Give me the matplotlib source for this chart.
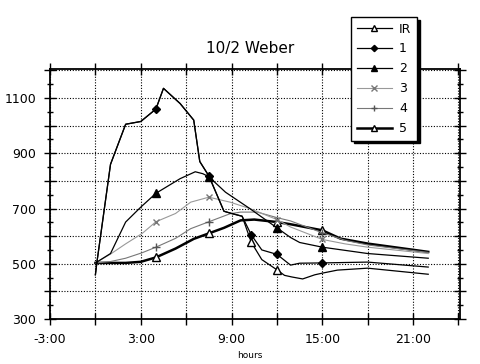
import numpy as np
import matplotlib
matplotlib.use('Agg')
import matplotlib.pyplot as plt
from matplotlib.ticker import MultipleLocator

# time in hours
t_ir = [0, 0.1, 1.0, 2.0, 3.0, 4.0, 4.5, 5.6, 6.5, 6.9, 7.5, 8.5, 9.0, 9.7,
        10.3, 11.0, 12.0, 12.5, 13.0, 13.7, 14.5, 15.0, 16.0, 18.0, 22.0]
v_ir = [460, 505, 860, 1005, 1015, 1060, 1135, 1080, 1020, 870, 818, 690, 682, 672,
        578, 515, 478, 458, 452, 445, 460, 466, 477, 484, 462]

t_1 = [0, 0.1, 1.0, 2.0, 3.0, 4.0, 4.5, 5.6, 6.5, 6.9, 7.5, 8.5, 9.0, 9.7,
       10.3, 11.0, 12.0, 12.9, 13.5, 15.0, 18.0, 22.0]
v_1 = [460, 505, 860, 1005, 1015, 1060, 1135, 1080, 1020, 870, 818, 690, 682, 672,
       605, 550, 534, 495, 502, 503, 506, 488]

t_2 = [0, 0.3, 1.0, 2.0, 3.0, 4.0, 5.6, 6.6, 7.1, 7.5, 8.6, 10.2, 12.0, 12.9, 13.5, 15.0, 18.0, 22.0]
v_2 = [503, 513, 537, 651, 705, 755, 808, 833, 826, 815, 759, 700, 630, 595, 577, 560, 537, 520]

t_3 = [0, 1.0, 2.0, 3.1, 4.0, 5.3, 6.3, 7.5, 8.9, 10.2, 12.0, 12.9, 15.0, 16.5, 18.0, 22.0]
v_3 = [503, 535, 572, 610, 652, 682, 723, 741, 723, 700, 660, 633, 588, 572, 560, 537]

t_4 = [0, 1.0, 2.0, 3.1, 4.0, 5.3, 6.3, 7.5, 8.9, 9.6, 10.7, 12.0, 12.9, 15.0, 16.5, 18.0, 22.0]
v_4 = [503, 508, 520, 540, 560, 592, 627, 652, 681, 687, 687, 667, 655, 612, 585, 568, 541]

t_5 = [0, 1.0, 2.0, 3.0, 4.0, 5.3, 6.5, 7.5, 8.5, 9.6, 10.5, 12.0, 12.9, 15.0, 16.2, 18.0, 22.0]
v_5 = [503, 503, 503, 507, 523, 555, 590, 610, 630, 657, 660, 651, 643, 621, 591, 573, 543]

# hours where a marker is drawn
mk_ir = [10.3, 12.0]
mk_1 = [4.0, 7.5, 10.3, 12.0, 15.0]
mk_2 = [4.0, 7.5, 12.0, 15.0]
mk_3 = [4.0, 7.5, 12.0, 15.0]
mk_4 = [4.0, 7.5, 15.0]
mk_5 = [4.0, 7.5, 12.0, 15.0]

x_ticks = list(range(-3, 25, 3))
x_labels = ['-3:00', '', '3:00', '', '9:00', '', '15:00', '', '21:00', '']

fig = plt.figure(figsize=(4.8, 3.64), dpi=100)
ax = fig.add_axes([50 / 480, 45 / 364, 410 / 480, 250 / 364])


def idx(t, m):
    return [i for i, v in enumerate(t) if v in m]


ax.plot(t_5, v_5, color='black', lw=1.8, marker='^', mfc='white', mec='black', ms=6,
        markevery=idx(t_5, mk_5), label='5', zorder=3)
ax.plot(t_4, v_4, color='#777777', lw=0.8, marker='+', mec='#555555', ms=6,
        markevery=idx(t_4, mk_4), label='4', zorder=3)
ax.plot(t_3, v_3, color='#999999', lw=0.8, marker='x', mec='#777777', ms=5,
        markevery=idx(t_3, mk_3), label='3', zorder=3)
ax.plot(t_2, v_2, color='black', lw=0.9, marker='^', mfc='black', mec='black', ms=6,
        markevery=idx(t_2, mk_2), label='2', zorder=3)
ax.plot(t_1, v_1, color='black', lw=0.9, marker='D', mfc='black', mec='black', ms=4,
        markevery=idx(t_1, mk_1), label='1', zorder=3)
ax.plot(t_ir, v_ir, color='black', lw=0.9, marker='^', mfc='white', mec='black', ms=6,
        markevery=idx(t_ir, mk_ir), label='IR', zorder=3)

ax.set_xlim(-3, 24.1)
ax.set_ylim(300, 1205)
ax.set_xticks(x_ticks)
ax.set_xticklabels(x_labels)
ax.set_yticks(range(300, 1201, 100))
ax.set_yticklabels(['300', '', '500', '', '700', '', '900', '', '1100', ''])
ax.yaxis.set_minor_locator(MultipleLocator(50))
ax.grid(True, which='major', color='black', linestyle=(0, (1, 1.5)), lw=0.8)
ax.tick_params(which='major', direction='inout', length=8, width=1,
               top=True, right=True, labelsize=9, pad=6)
ax.tick_params(which='minor', axis='y', direction='inout', length=4, width=1,
               left=True, right=True)
for s in ax.spines.values():
    s.set_linewidth(1.3)

fig.text(250 / 480, 1 - 48 / 364, '10/2 Weber', ha='center', va='center', fontsize=11)
fig.text(250 / 480, 1 - 356 / 364, 'hours', ha='center', va='center', fontsize=6.5)

h, l = ax.get_legend_handles_labels()
order = ['IR', '1', '2', '3', '4', '5']
hs = [h[l.index(o)] for o in order]
leg = fig.legend(hs, order, loc='upper left', bbox_to_anchor=(351 / 480, 1 - 17 / 364),
                 fontsize=9, frameon=True, fancybox=False, framealpha=1,
                 edgecolor='black', handlelength=2.8, labelspacing=0.55,
                 borderpad=0.45, handletextpad=0.6, borderaxespad=0, markerscale=0.8,
                 shadow={'color': 'black', 'alpha': 1})
leg.get_frame().set_linewidth(1)

fig.savefig('out.png', dpi=100)
